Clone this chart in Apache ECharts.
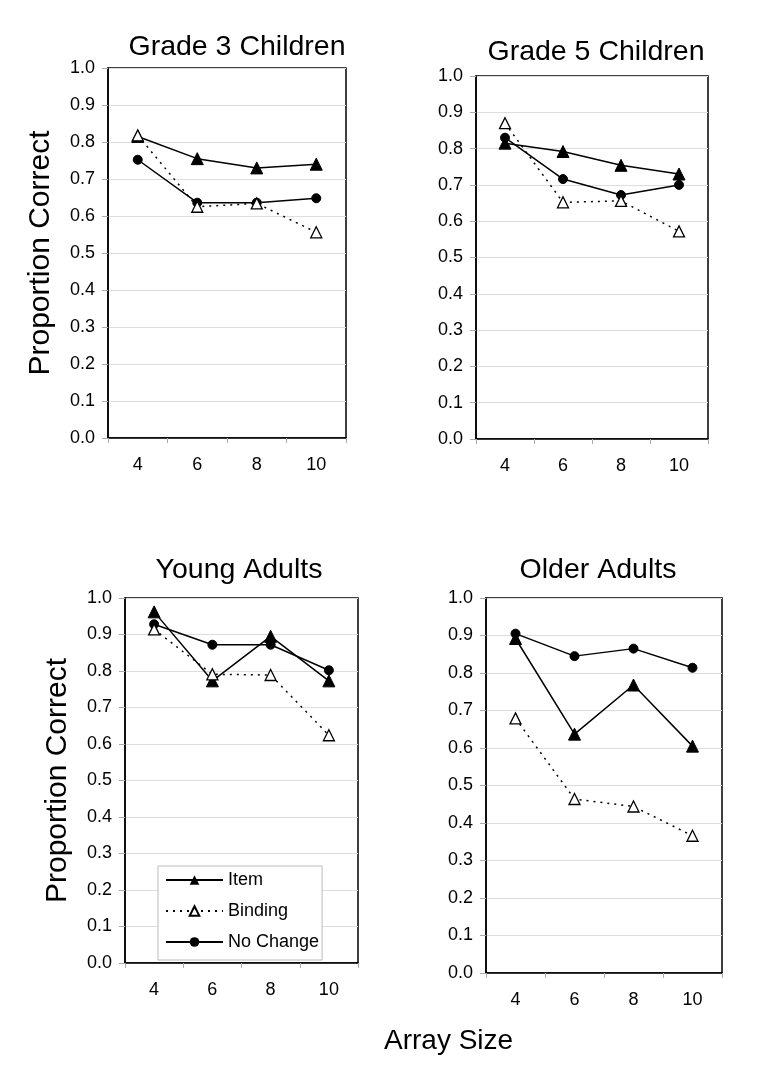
<!DOCTYPE html>
<html>
<head>
<meta charset="utf-8">
<script src="https://cdn.jsdelivr.net/npm/echarts@6/dist/echarts.min.js"></script>
<style>
  html, body { margin: 0; padding: 0; background: #fff; }
  #main { width: 758px; height: 1075px; }
</style>
</head>
<body>
<div id="main"></div>
<script>
var arraySizes = ['4', '6', '8', '10'];
var yTicks = ['0.0', '0.1', '0.2', '0.3', '0.4', '0.5', '0.6', '0.7', '0.8', '0.9', '1.0'];
var panelTitles = ['Grade 3 Children', 'Grade 5 Children', 'Young Adults', 'Older Adults'];

// item / binding / no change, one array per group
var grade3Item = [0.815, 0.755, 0.73, 0.74];
var grade3Binding = [0.818, 0.625, 0.634, 0.556];
var grade3NoChange = [0.752, 0.636, 0.636, 0.648];

var grade5Item = [0.815, 0.792, 0.754, 0.73];
var grade5Binding = [0.87, 0.652, 0.656, 0.572];
var grade5NoChange = [0.83, 0.716, 0.672, 0.70];

var youngItem = [0.962, 0.773, 0.895, 0.773];
var youngBinding = [0.914, 0.791, 0.789, 0.624];
var youngNoChange = [0.928, 0.872, 0.872, 0.802];

var olderItem = [0.892, 0.637, 0.768, 0.605];
var olderBinding = [0.679, 0.464, 0.444, 0.366];
var olderNoChange = [0.905, 0.845, 0.865, 0.814];

var groups = [
  [grade3Item, grade3Binding, grade3NoChange],
  [grade5Item, grade5Binding, grade5NoChange],
  [youngItem, youngBinding, youngNoChange],
  [olderItem, olderBinding, olderNoChange]
];

var font = '"Liberation Sans", Arial, sans-serif';
var boxes = [
  { left: 108, top: 68, width: 238, height: 370 },
  { left: 476, top: 76, width: 232, height: 363 },
  { left: 125, top: 598, width: 233, height: 365 },
  { left: 486, top: 598, width: 236, height: 375 }
];
var titlePos = [[232, 28], [591, 33], [234, 551], [593, 551]];

var myChart = echarts.init(document.getElementById('main'), null, { renderer: 'canvas' });

var grids = [], xAxes = [], yAxes = [], series = [], titles = [];
boxes.forEach(function (b, i) {
  grids.push({
    left: b.left, top: b.top, width: b.width, height: b.height,
    show: true, borderColor: '#000', borderWidth: 1.5, backgroundColor: '#fff'
  });
  titles.push({
    text: panelTitles[i],
    left: titlePos[i][0], top: titlePos[i][1], textAlign: 'center',
    textStyle: { fontFamily: font, fontSize: 28.5, fontWeight: 'normal', color: '#000' }
  });
  xAxes.push({
    gridIndex: i, type: 'category', data: arraySizes, boundaryGap: true,
    axisLine: { lineStyle: { color: '#000', width: 1.5 } },
    axisTick: { show: true, interval: 0, length: 5, lineStyle: { color: '#aaa' } },
    axisLabel: { color: '#000', fontFamily: font, fontSize: 18, margin: 18 },
    splitLine: { show: false }
  });
  yAxes.push({
    gridIndex: i, type: 'value', min: 0, max: 1, interval: 0.1,
    name: (i % 2 === 0) ? 'Proportion Correct' : '',
    nameLocation: 'middle', nameGap: 52,
    nameTextStyle: { fontFamily: font, fontSize: 30, color: '#000' },
    axisLine: { show: true, lineStyle: { color: '#000', width: 1.5 } },
    axisTick: { show: true, length: 6, lineStyle: { color: '#aaa' } },
    axisLabel: {
      color: '#000', fontFamily: font, fontSize: 18, margin: 13,
      formatter: function (v) { return yTicks[Math.round(v * 10)]; }
    },
    splitLine: { show: true, lineStyle: { color: '#ddd', width: 1 } }
  });
  var g = groups[i];
  series.push({
    name: 'Item', type: 'line', xAxisIndex: i, yAxisIndex: i, data: g[0],
    symbol: 'triangle', symbolSize: 12,
    lineStyle: { color: '#000', width: 1.5 },
    itemStyle: { color: '#000', borderColor: '#000' }, z: 3
  });
  series.push({
    name: 'Binding', type: 'line', xAxisIndex: i, yAxisIndex: i, data: g[1],
    symbol: 'triangle', symbolSize: 11,
    lineStyle: { color: '#000', width: 1.5, type: [2, 5] },
    itemStyle: { color: '#fff', borderColor: '#000', borderWidth: 1.3 }, z: 4
  });
  series.push({
    name: 'No Change', type: 'line', xAxisIndex: i, yAxisIndex: i, data: g[2],
    symbol: 'circle', symbolSize: 9,
    lineStyle: { color: '#000', width: 1.5 },
    itemStyle: { color: '#000', borderColor: '#000' }, z: 2
  });
});

var option = {
  animation: false,
  backgroundColor: '#fff',
  title: titles,
  grid: grids,
  xAxis: xAxes,
  yAxis: yAxes,
  series: series,
  legend: {
    data: ['Item', 'Binding', 'No Change'],
    orient: 'vertical', left: 158, top: 866,
    itemWidth: 57, itemHeight: 12, itemGap: 13,
    padding: [5, 3, 9, 7],
    borderColor: '#bbb', borderWidth: 1, backgroundColor: '#fff',
    textStyle: { fontFamily: font, fontSize: 18, color: '#000' }
  },
  graphic: [{
    type: 'text', left: 384, top: 1027,
    style: { text: 'Array Size', font: '28px ' + font, fill: '#000' }
  }]
};
myChart.setOption(option);
</script>
</body>
</html>
